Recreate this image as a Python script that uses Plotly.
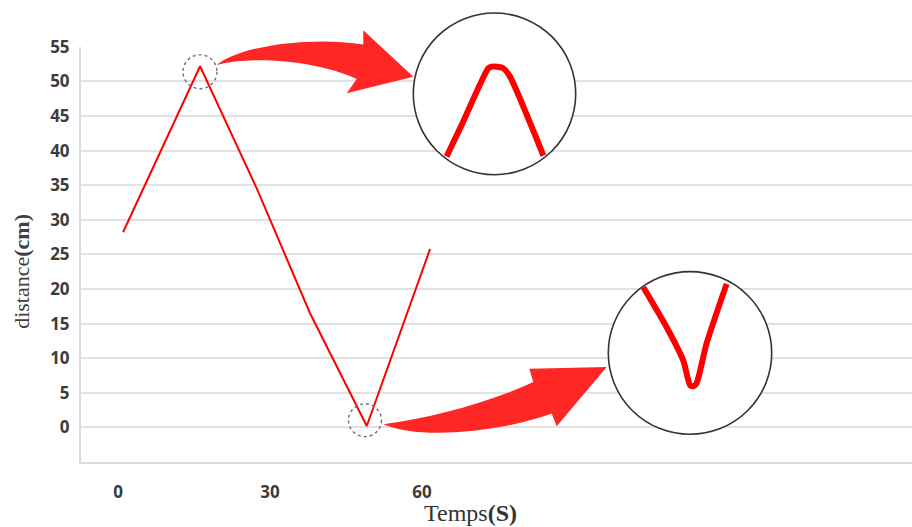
import plotly.graph_objects as go

# Position record: time (s) and distance (cm)
temps = [1.0, 9.5, 16.2, 27.4, 37.9, 49.1, 61.6]
distance = [28.2, 41.6, 52.2, 34.5, 16.5, 0.2, 25.8]

# Magnified detail around the maximum and the minimum
peak_detail_t = [14.20, 14.82, 15.92, 16.06, 16.30, 16.54, 16.82, 18.20]
peak_detail_d = [49.50, 50.45, 52.17, 52.22, 52.22, 52.17, 51.92, 49.53]
valley_detail_t = [46.89, 47.82, 48.48, 48.75, 48.88, 49.01, 49.41, 50.21]
valley_detail_d = [2.98, 1.80, 0.82, 0.09, 0.06, 0.14, 1.32, 3.08]

y_ticks = list(range(0, 60, 5))
x_ticks = [0, 30, 60]

# Figure geometry (pixels)
W, H = 912, 527
ML, MR, MT, MB = 81, 0, 10, 65
PW, PH = W - ML - MR, H - MT - MB
PLOT_TOP = 45
X_RANGE = [-7.3, 156.7]
Y_RANGE = [-5, 55]
SX = PW / (X_RANGE[1] - X_RANGE[0])            # px per second
SY = (H - MB - PLOT_TOP) / (Y_RANGE[1] - Y_RANGE[0])  # px per cm


def px(x, y):
    """pixel position -> paper coordinates string"""
    return f"{(x - ML) / PW:.5f},{(H - MB - y) / PH:.5f}"


def dom_x(a, b):
    return [(a - ML) / PW, (b - ML) / PW]


def dom_y(top, bottom):
    return [(H - MB - bottom) / PH, (H - MB - top) / PH]


RED = "#ff0000"
ARROW = "#ff2626"

# focus windows (centre in data units, radius in pixels)
peak_focus = (16.18, 51.4, 17.0)
valley_focus = (48.75, 1.04, 16.5)


def window(focus):
    t, d, r = focus
    return [t - r / SX, t + r / SX], [d - r / SY, d + r / SY]


pk_xr, pk_yr = window(peak_focus)
vl_xr, vl_yr = window(valley_focus)

fig = go.Figure()
fig.add_trace(go.Scatter(x=temps, y=distance, mode="lines",
                         line=dict(color=RED, width=2), xaxis="x", yaxis="y",
                         showlegend=False, hoverinfo="skip"))
fig.add_trace(go.Scatter(x=peak_detail_t, y=peak_detail_d, mode="lines",
                         line=dict(color=RED, width=6, shape="spline", smoothing=0.6),
                         xaxis="x2", yaxis="y2", showlegend=False, hoverinfo="skip"))
fig.add_trace(go.Scatter(x=valley_detail_t, y=valley_detail_d, mode="lines",
                         line=dict(color=RED, width=6, shape="spline", smoothing=0.6),
                         xaxis="x3", yaxis="y3", showlegend=False, hoverinfo="skip"))

tick_font = dict(family="Open Sans", size=17, color="#3c3c3c", weight="bold")

shapes = []
# dotted focus rings on the main curve
for (t, d, r) in (peak_focus, valley_focus):
    shapes.append(dict(type="circle", xref="x", yref="y",
                       x0=t - r / SX, x1=t + r / SX, y0=d - r / SY, y1=d + r / SY,
                       line=dict(color="#707070", width=1.4, dash="dot"),
                       layer="above"))
# white discs behind the magnified views
for xa, ya, xr, yr in (("x2", "y2", pk_xr, pk_yr), ("x3", "y3", vl_xr, vl_yr)):
    shapes.append(dict(type="circle", xref=xa, yref=ya,
                       x0=xr[0], x1=xr[1], y0=yr[0], y1=yr[1],
                       fillcolor="white", line=dict(width=0), layer="below"))
# outlines of the magnified views
for (cx, cy, r) in ((494.5, 92.2, 81.2), (690.0, 352.5, 81.7)):
    shapes.append(dict(type="circle", xref="paper", yref="paper",
                       x0=(cx - r - ML) / PW, x1=(cx + r - ML) / PW,
                       y0=(H - MB - cy - r) / PH, y1=(H - MB - cy + r) / PH,
                       line=dict(color="#333333", width=1.6), layer="above"))
# curved arrows
top_arrow = (f"M{px(216.7, 63.3)} C{px(240, 44)} {px(310, 34)} {px(363.3, 42.7)} "
             f"L{px(363.3, 28.3)} L{px(413.3, 75)} L{px(346.7, 91.7)} L{px(356.7, 77.3)} "
             f"C{px(320, 60)} {px(255, 53)} {px(216.7, 63.3)} Z")
bottom_arrow = (f"M{px(383.3, 424)} C{px(430, 418)} {px(490, 402)} {px(533.3, 381.7)} "
                f"L{px(529.3, 368.3)} L{px(606.7, 366.7)} L{px(556.7, 426)} L{px(551.7, 413.3)} "
                f"C{px(500, 432)} {px(420, 440)} {px(383.3, 424)} Z")
for p in (top_arrow, bottom_arrow):
    shapes.append(dict(type="path", xref="paper", yref="paper", path=p,
                       fillcolor=ARROW, line=dict(width=0), layer="above"))

annotations = [
    dict(text="distance<b>(cm)</b>", textangle=-90, xref="paper", yref="paper",
         x=(22 - ML) / PW, y=(H - MB - 270) / PH, showarrow=False,
         font=dict(family="Liberation Serif", size=22, color="#404040"),
         xanchor="center", yanchor="middle"),
    dict(text="Temps<b>(S)</b>", xref="paper", yref="paper",
         x=(470 - ML) / PW, y=(H - MB - 513) / PH, showarrow=False,
         font=dict(family="Liberation Serif", size=24, color="#333333"),
         xanchor="center", yanchor="middle"),
]

fig.update_layout(
    width=W, height=H,
    margin=dict(l=ML, r=MR, t=MT, b=MB),
    paper_bgcolor="white", plot_bgcolor="rgba(0,0,0,0)",
    showlegend=False,
    xaxis=dict(domain=[0, 1], range=X_RANGE, tickvals=x_ticks, showgrid=False,
               zeroline=False, showline=True, linecolor="#dcdcdc", linewidth=2,
               ticks="", tickfont=tick_font, ticklabelstandoff=14, fixedrange=True),
    yaxis=dict(domain=dom_y(PLOT_TOP, H - MB), range=Y_RANGE, tickvals=y_ticks,
               showgrid=True, gridcolor="#e2e2e2", gridwidth=2, zeroline=False,
               showline=True, linecolor="#dcdcdc", linewidth=2, ticks="",
               tickfont=tick_font, ticklabelstandoff=6, fixedrange=True),
    xaxis2=dict(domain=dom_x(413.3, 575.7), range=pk_xr, visible=False, anchor="y2"),
    yaxis2=dict(domain=dom_y(11.0, 173.3), range=pk_yr, visible=False, anchor="x2"),
    xaxis3=dict(domain=dom_x(608.3, 771.7), range=vl_xr, visible=False, anchor="y3"),
    yaxis3=dict(domain=dom_y(271.7, 433.3), range=vl_yr, visible=False, anchor="x3"),
    shapes=shapes,
    annotations=annotations,
)

fig.write_html("out.html")
